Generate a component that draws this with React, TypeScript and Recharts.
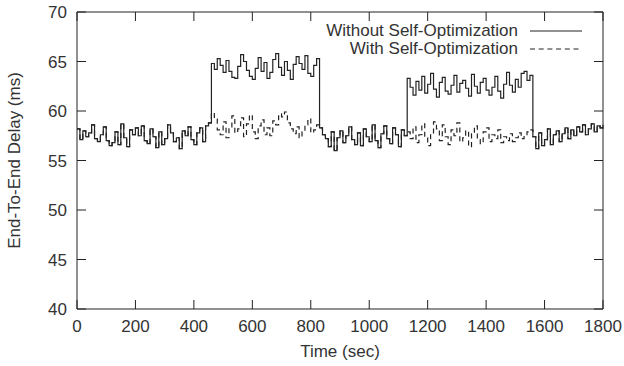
import { Line, LineChart, ReferenceLine, XAxis, YAxis } from "recharts";

const SAMPLE_SEC = 10;

const baseA = [
  58.2, 57.1, 58.0, 57.4, 57.8, 58.6, 57.2, 56.9, 57.6, 58.4,
  57.0, 56.5, 56.8, 57.9, 56.6, 58.7, 57.3, 56.4, 58.1, 57.6,
  58.3, 57.5, 58.5, 57.0, 56.7, 58.2, 57.4, 56.3, 57.9, 56.6,
  57.2, 58.6, 57.8, 56.9, 57.3, 56.2, 58.0, 57.5, 58.4, 57.1,
  56.6, 57.8, 58.3, 56.9, 58.5, 58.8,
];
const highA = [
  64.8, 64.2, 65.3, 64.6, 63.9, 65.1, 64.0, 63.4, 63.3, 64.5,
  65.7, 65.0, 64.1, 63.5, 63.2, 64.3, 65.4, 64.0, 64.9, 63.3,
  63.9, 65.2, 65.8, 64.4, 63.6, 65.0, 64.1, 63.2, 64.7, 65.5,
  64.8, 64.2, 65.6, 63.8, 63.5, 64.6, 65.3,
];
const optA = [
  59.8, 59.2, 58.1, 57.6, 58.9, 57.3, 58.4, 59.5, 57.8, 58.2,
  59.3, 57.4, 58.7, 59.6, 57.9, 57.2, 58.5, 59.1, 57.6, 58.3,
  57.5, 59.0, 58.6, 59.7, 59.4, 59.9, 58.8, 58.2, 57.7, 58.4,
  57.3, 57.9, 58.6, 59.2, 57.8, 58.1, 58.6,
];
const baseB = [
  58.3, 57.6, 57.2, 56.4, 57.9, 56.0, 57.3, 58.0, 56.8, 57.5,
  58.4, 57.1, 56.6, 57.8, 56.5, 58.2, 57.4, 56.9, 58.6, 57.0,
  56.3, 57.7, 58.5, 57.2, 56.7, 58.3, 57.6, 56.4, 58.1, 57.5,
];
const highB = [
  63.3, 62.4, 61.6, 63.0, 62.1, 63.5, 61.8, 62.7, 63.8, 62.2,
  61.4, 62.9, 63.4, 62.0, 61.7, 62.6, 63.6, 61.9, 62.8, 63.1,
  62.3, 61.5, 63.7, 62.5, 61.8, 62.9, 63.3, 62.1, 61.6, 62.4,
  63.5, 62.0, 61.3, 62.7, 63.9, 62.6, 61.9, 63.2, 62.4, 63.8,
  64.0, 63.1, 63.6,
];
const optB = [
  57.9, 57.2, 58.4, 56.8, 57.6, 58.7, 57.3, 56.5, 57.8, 58.9,
  58.2, 57.0, 58.6, 57.4, 56.6, 58.1, 57.5, 58.8, 56.9, 57.3,
  58.0, 56.4, 57.7, 58.5, 57.1, 56.7, 57.9, 58.3, 56.9, 57.6,
  57.2, 58.1, 56.8, 57.4, 57.0, 57.7, 56.9, 57.3, 57.8, 57.2,
  57.5, 57.9, 58.1,
];
const baseC = [
  57.4, 56.2, 57.8, 56.5, 57.1, 58.2, 56.6, 57.6, 58.0, 56.9,
  57.7, 58.3, 57.2, 58.1, 57.5, 58.4, 57.9, 58.6, 57.6, 58.2,
  58.7, 57.9, 58.5, 58.3, 58.6,
];

const withoutOpt = [...baseA, ...highA, ...baseB, ...highB, ...baseC];
const withOpt = [...baseA, ...optA, ...baseB, ...optB, ...baseC];

const xTicks = [0, 200, 400, 600, 800, 1000, 1200, 1400, 1600, 1800];
const yTicks = [40, 45, 50, 55, 60, 65, 70];

const series = [
  { key: "without", name: "Without Self-Optimization", dash: undefined },
  { key: "with", name: "With Self-Optimization", dash: "5 3.7" },
];

const data = withoutOpt.map((v, i) => ({
  t: i * SAMPLE_SEC,
  without: v,
  with: withOpt[i],
}));

const W = 624;
const H = 366;
const M = { top: 12, right: 21, bottom: 0, left: 0 };
const X_AXIS_H = 57;
const Y_AXIS_W = 77;
const PLOT_TOP = M.top;
const PLOT_RIGHT = W - M.right;
const TICK = 9;
const INK = "#222";
const TEXT = "#333";
const FONT = "'Liberation Sans', Arial, Helvetica, sans-serif";
const FS = 17;

function XTick({ x, y, payload }: any) {
  return (
    <g>
      <line x1={x} x2={x} y1={y} y2={y - TICK} stroke={INK} />
      <line x1={x} x2={x} y1={PLOT_TOP} y2={PLOT_TOP + TICK} stroke={INK} />
      <text x={x} y={y + 23} textAnchor="middle" fontSize={FS} fontFamily={FONT} fill={TEXT}>
        {payload.value}
      </text>
    </g>
  );
}

function YTick({ x, y, payload }: any) {
  return (
    <g>
      <line x1={x} x2={x + TICK} y1={y} y2={y} stroke={INK} />
      <line x1={PLOT_RIGHT} x2={PLOT_RIGHT - TICK} y1={y} y2={y} stroke={INK} />
      <text x={x - 10} y={y + 6} textAnchor="end" fontSize={FS} fontFamily={FONT} fill={TEXT}>
        {payload.value}
      </text>
    </g>
  );
}

function LegendBox() {
  return (
    <div
      style={{
        position: "absolute",
        top: 22,
        right: 42,
        fontFamily: FONT,
        fontSize: FS,
        lineHeight: "18px",
        color: TEXT,
      }}
    >
      {series.map((s) => (
        <div
          key={s.key}
          style={{ display: "flex", alignItems: "center", justifyContent: "flex-end" }}
        >
          <span>{s.name}</span>
          <svg width={52} height={18} style={{ marginLeft: 12, display: "block" }}>
            <line x1={0} x2={52} y1={9} y2={9} stroke={INK} strokeDasharray={s.dash} />
          </svg>
        </div>
      ))}
    </div>
  );
}

export default function App() {
  return (
    <div style={{ position: "absolute", left: 0, top: 0, width: W, height: H, background: "#fff" }}>
      <LineChart width={W} height={H} data={data} margin={M}>
        <XAxis
          dataKey="t"
          type="number"
          domain={[0, 1800]}
          ticks={xTicks}
          interval={0}
          height={X_AXIS_H}
          tickSize={0}
          tickMargin={0}
          tick={<XTick />}
          axisLine={{ stroke: INK }}
          tickLine={false}
          label={{
            value: "Time (sec)",
            position: "insideBottom",
            offset: 9,
            fontSize: FS,
            fontFamily: FONT,
            fill: TEXT,
          }}
        />
        <YAxis
          type="number"
          domain={[40, 70]}
          ticks={yTicks}
          interval={0}
          width={Y_AXIS_W}
          tickSize={0}
          tickMargin={0}
          tick={<YTick />}
          axisLine={{ stroke: INK }}
          tickLine={false}
          allowDataOverflow
          label={{
            value: "End-To-End Delay (ms)",
            angle: -90,
            position: "insideLeft",
            offset: 14,
            fontSize: FS,
            fontFamily: FONT,
            fill: TEXT,
            style: { textAnchor: "middle" },
          }}
        />
        <ReferenceLine y={70} stroke={INK} />
        <ReferenceLine x={1800} stroke={INK} />
        {series.map((s) => (
          <Line
            key={s.key}
            type="stepAfter"
            dataKey={s.key}
            name={s.name}
            stroke={INK}
            strokeWidth={1.2}
            strokeDasharray={s.dash}
            dot={false}
            isAnimationActive={false}
          />
        ))}
      </LineChart>
      <LegendBox />
    </div>
  );
}
